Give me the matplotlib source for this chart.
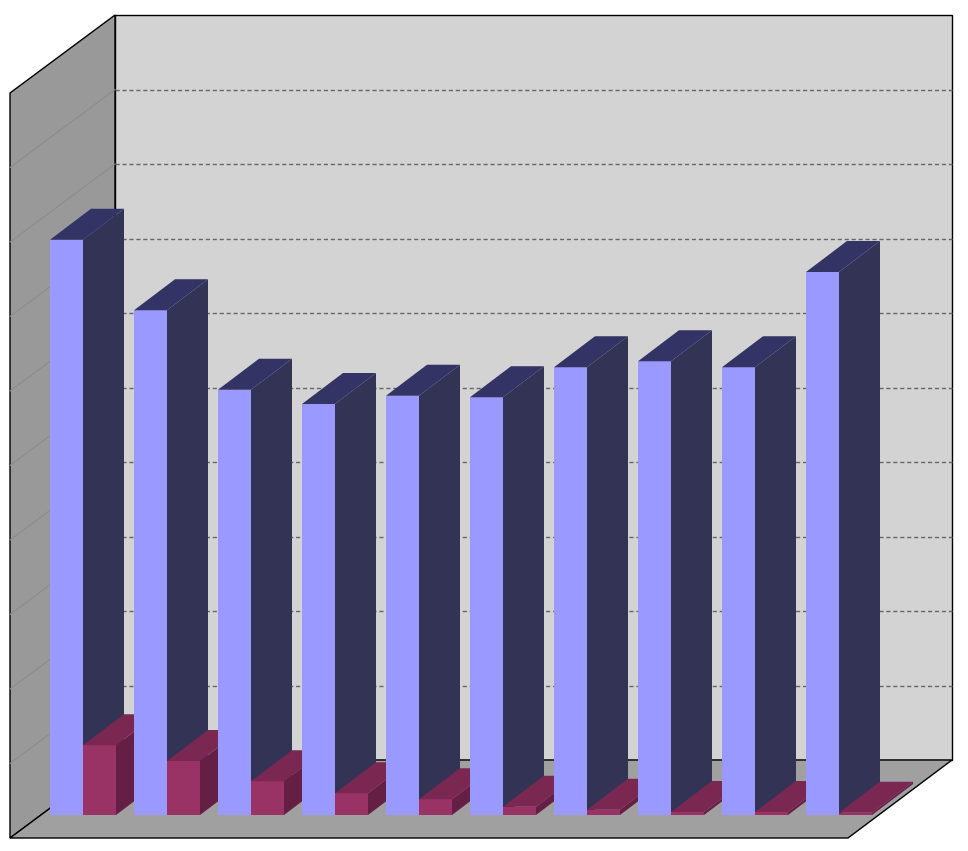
import matplotlib.pyplot as plt
from matplotlib.patches import Polygon

categories = list(range(1, 11))
series_a = [7.67, 6.73, 5.67, 5.48, 5.59, 5.57, 5.97, 6.05, 5.97, 7.24]
series_b = [0.93, 0.72, 0.45, 0.29, 0.21, 0.11, 0.07, 0.04, 0.04, 0.03]

# pseudo-3D geometry (pixel space)
BASE = 815
UNIT = 75
DX, DY = 41, -31
W = 33
STEP = 84
X0 = 50

fig = plt.figure(figsize=(9.68, 8.51), dpi=100)
ax = fig.add_axes([0, 0, 1, 1])
ax.set_xlim(0, 968)
ax.set_ylim(851, 0)
ax.axis("off")

def poly(pts, fc, z, ec="none", lw=0):
    ax.add_patch(Polygon(pts, closed=True, facecolor=fc, edgecolor=ec, lw=lw, zorder=z))

# walls and floor
poly([(115, 15), (952, 15), (952, 760), (115, 760)], "#d3d3d3", 1, "black", 1)
poly([(10, 93), (115, 15), (115, 760), (10, 838)], "#999999", 1, "black", 1)
poly([(10, 838), (848, 838), (952, 760), (115, 760)], "#a0a0a0", 1, "black", 1)
for k in range(1, 10):
    y = 760 - k * 74.5
    ax.plot([115, 952], [y, y], ls=(0, (3, 2)), color="#666666", lw=1, zorder=2)
    ax.plot([10, 115], [y + 78, y], color="#8c8c8c", lw=0.8, zorder=2)

def bar3d(x, v, front, dark, top, z):
    yt = BASE - v * UNIT
    poly([(x, BASE), (x + W, BASE), (x + W, yt), (x, yt)], front, z)
    poly([(x + W, BASE), (x + W + DX, BASE + DY), (x + W + DX, yt + DY), (x + W, yt)], dark, z)
    poly([(x, yt), (x + W, yt), (x + W + DX, yt + DY), (x + DX, yt + DY)], top, z)

for i, (a, b) in enumerate(zip(series_a, series_b)):
    x = X0 + STEP * i
    bar3d(x, a, "#9999ff", "#333355", "#333366", 3 + 2 * i)
    bar3d(x + W, b, "#993366", "#661f44", "#7a2852", 4 + 2 * i)

fig.savefig("out.png", dpi=100)
